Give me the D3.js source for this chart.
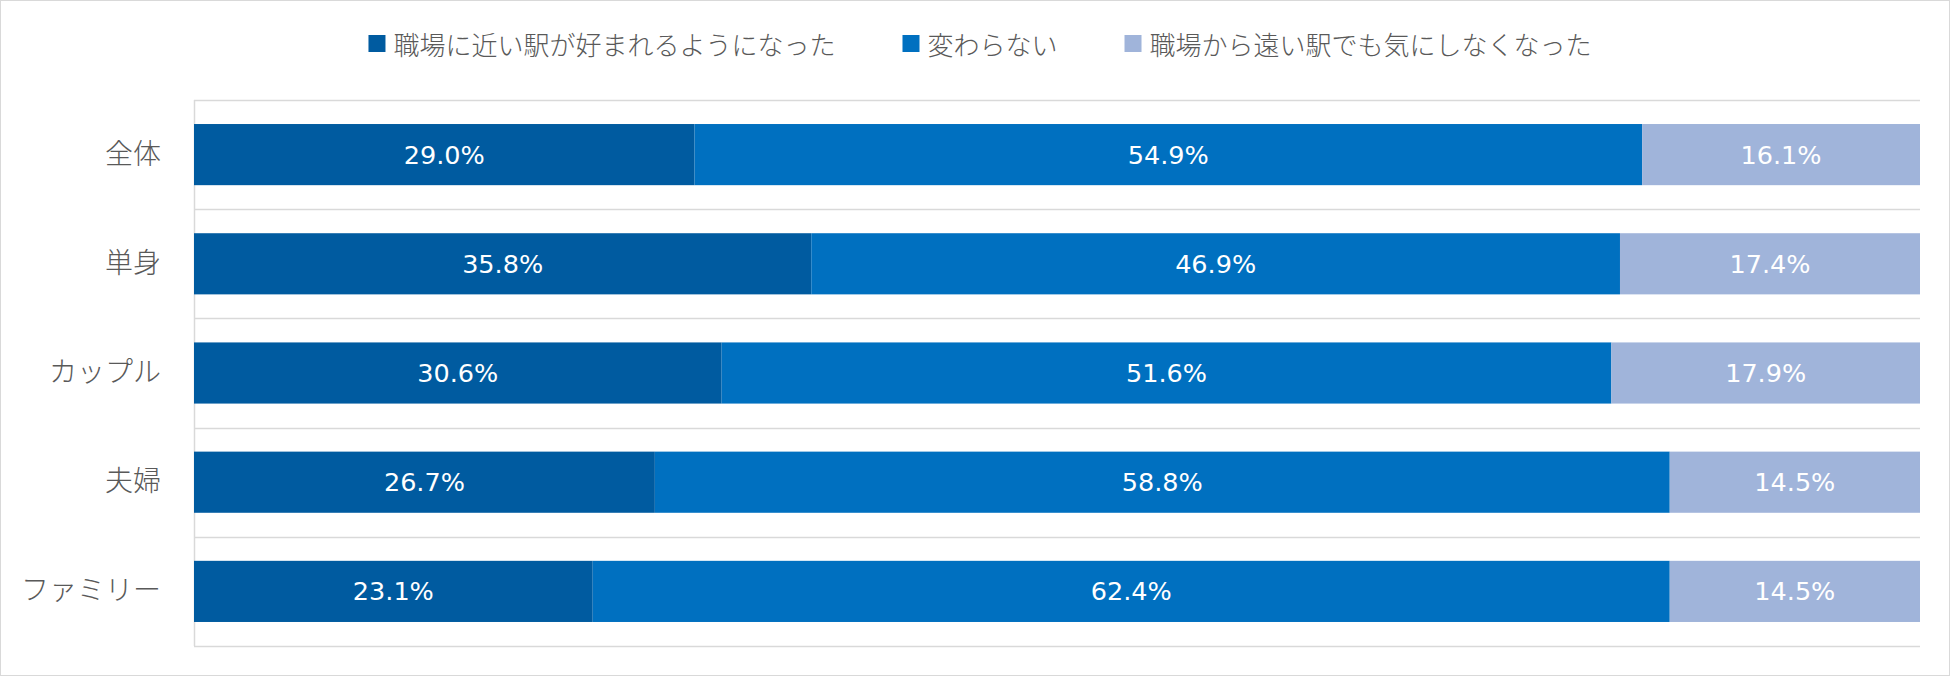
<!DOCTYPE html>
<html><head><meta charset="utf-8">
<script src="https://cdn.jsdelivr.net/npm/d3@7/dist/d3.min.js"></script>
<style>body{margin:0;background:#fff}svg{display:block}</style>
</head><body>
<svg id="chart" width="1950" height="676"></svg>
<script>
const categories = ["全体","単身","カップル","夫婦","ファミリー"];
const seriesNames = ["職場に近い駅が好まれるようになった","変わらない","職場から遠い駅でも気にしなくなった"];
const closer = [29.0,35.8,30.6,26.7,23.1];
const same = [54.9,46.9,51.6,58.8,62.4];
const farther = [16.1,17.4,17.9,14.5,14.5];
const colors = ["#005BA0","#0070C0","#A0B4DA"];

const W=1950,H=676;
const svg=d3.select("#chart");
const jp="'Noto Sans CJK JP','Noto Sans',sans-serif";
const num="'DejaVu Sans',Verdana,sans-serif";

svg.append("rect").attr("x",0.5).attr("y",0.5).attr("width",W-1).attr("height",H-1)
  .attr("fill","#fff").attr("stroke","#d9d9d9");

const rows=categories.map((c,i)=>({cat:c,s0:closer[i],s1:same[i],s2:farther[i]}));
const stack=d3.stack().keys(["s0","s1","s2"]).offset(d3.stackOffsetExpand)(rows);

const x=d3.scaleLinear().domain([0,1]).range([194,1920]);
const y=d3.scaleBand().domain(categories).range([100,646]).paddingInner(0.44).paddingOuter(0.22);

const g=svg.append("g");
const bounds=d3.range(categories.length+1).map(i=>100+i*(546/categories.length));
g.selectAll("line.grid").data(bounds).join("line")
  .attr("x1",194).attr("x2",1920).attr("y1",d=>Math.round(d)+0.5).attr("y2",d=>Math.round(d)+0.5)
  .attr("stroke","#d9d9d9").attr("stroke-width",1.5);
g.append("line").attr("x1",194.5).attr("x2",194.5).attr("y1",100).attr("y2",646)
  .attr("stroke","#d9d9d9").attr("stroke-width",1.5);

const layers=svg.append("g").selectAll("g").data(stack).join("g").attr("fill",(d,i)=>colors[i]);
layers.selectAll("rect").data(d=>d.map(v=>({v,cat:v.data.cat}))).join("rect")
  .attr("x",d=>x(d.v[0])).attr("width",d=>x(d.v[1])-x(d.v[0]))
  .attr("y",d=>y(d.cat)).attr("height",y.bandwidth());

const keys=["s0","s1","s2"];
stack.forEach((layer,li)=>{
  svg.append("g").selectAll("text").data(layer).join("text")
    .attr("x",d=>(x(d[0])+x(d[1]))/2).attr("y",d=>y(d.data.cat)+y.bandwidth()/2)
    .attr("text-anchor","middle").attr("dominant-baseline","central")
    .attr("fill","#fff").attr("font-family",num).attr("font-size",25.5)
    .text(d=>d.data[keys[li]].toFixed(1)+"%");
});

const yAxis=d3.axisLeft(y).tickSize(0).tickPadding(33);
const ya=svg.append("g").attr("transform","translate(194,0)").call(yAxis);
ya.select(".domain").remove();
ya.selectAll("text").attr("font-family",jp).attr("font-size",28).attr("font-weight",300).attr("fill","#595959");

const leg=svg.append("g");
const items=leg.selectAll("g").data(seriesNames).join("g");
items.append("rect").attr("width",17).attr("height",17).attr("y",35).attr("fill",(d,i)=>colors[i]);
items.append("text").attr("x",25).attr("y",43).attr("dominant-baseline","central")
  .attr("font-family",jp).attr("font-size",26).attr("font-weight",300).attr("fill","#595959").text(d=>d);
let cx=0;const offs=[];
items.each(function(d,i){const w=d3.select(this).select("text").node().getComputedTextLength();offs.push(cx);cx+=25+w+67;});
const total=cx-67;
const start=980-total/2;
items.attr("transform",(d,i)=>`translate(${start+offs[i]},0)`);
</script>
</body></html>
